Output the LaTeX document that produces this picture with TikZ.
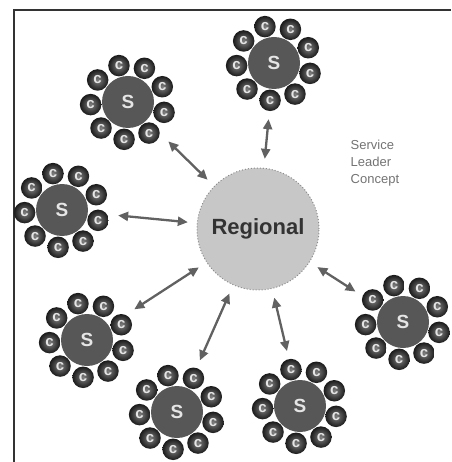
\documentclass[tikz,border=0pt]{standalone}
\usepackage{fontspec}
\setmainfont{Liberation Sans}
\usetikzlibrary{arrows.meta}

\begin{document}
\begin{tikzpicture}[x=1pt, y=-1pt, thick,
  hub/.style = {circle, draw=black!45, dotted, line width=1pt, fill=black!22, minimum size=122pt, inner sep=0pt, font=\fontsize{22}{22}\selectfont\bfseries, text=black!80},
  lead/.style = {circle, fill=black!66, minimum size=52pt, inner sep=0pt, font=\fontsize{19}{19}\selectfont\bfseries, text=black!10},
  cust/.style = {circle, shade, inner color=black!50, outer color=black!90, minimum size=21.5pt, inner sep=0pt, font=\fontsize{15}{15}\selectfont\bfseries, text=black!10},
  link/.style = {draw=black!62, line width=2.3pt, {Triangle[length=10pt,width=9pt]}-{Triangle[length=10pt,width=9pt]}, shorten <=30pt, shorten >=9pt},
  note/.style = {anchor=west, align=left, text=black!55, font=\fontsize{13}{17}\selectfont}]
            \useasboundingbox (0,0) rectangle (451,462);
            \draw[line width=2pt, black!80] (13.5,462) -- (13.5,10.5) -- (451,10.5);

            \node[hub] (reg) at (258,229) {Regional};
            \node[lead] (1s) at (128,102) {S};
            \node[lead] (2s) at (274,63) {S};
            \node[lead] (3s) at (62,210) {S};
            \node[lead] (4s) at (87,340) {S};
            \node[lead] (5s) at (177,412) {S};
            \node[lead] (6s) at (300,406) {S};
            \node[lead] (7s) at (403,322) {S};

            \foreach \s in {1,...,7}
                \foreach \a [count=\k] in {104,64,24,-16,-56,-96,-136,-176,144}
                    \node[cust] (\s c\k) at ([shift={(\a:37.5pt)}]\s s.center) {c};

            \node[note] (svc) at (347,163) {Service\\Leader\\Concept};

            \draw[link] (1s) -- (reg);
            \draw[link] (2s) -- (reg);
            \draw[link] (3s) -- (reg);
            \draw[link] (4s) -- (reg);
            \draw[link] (5s) -- (reg);
            \draw[link] (6s) -- (reg);
            \draw[link] (7s) -- (reg);
        \end{tikzpicture}
\end{document}
